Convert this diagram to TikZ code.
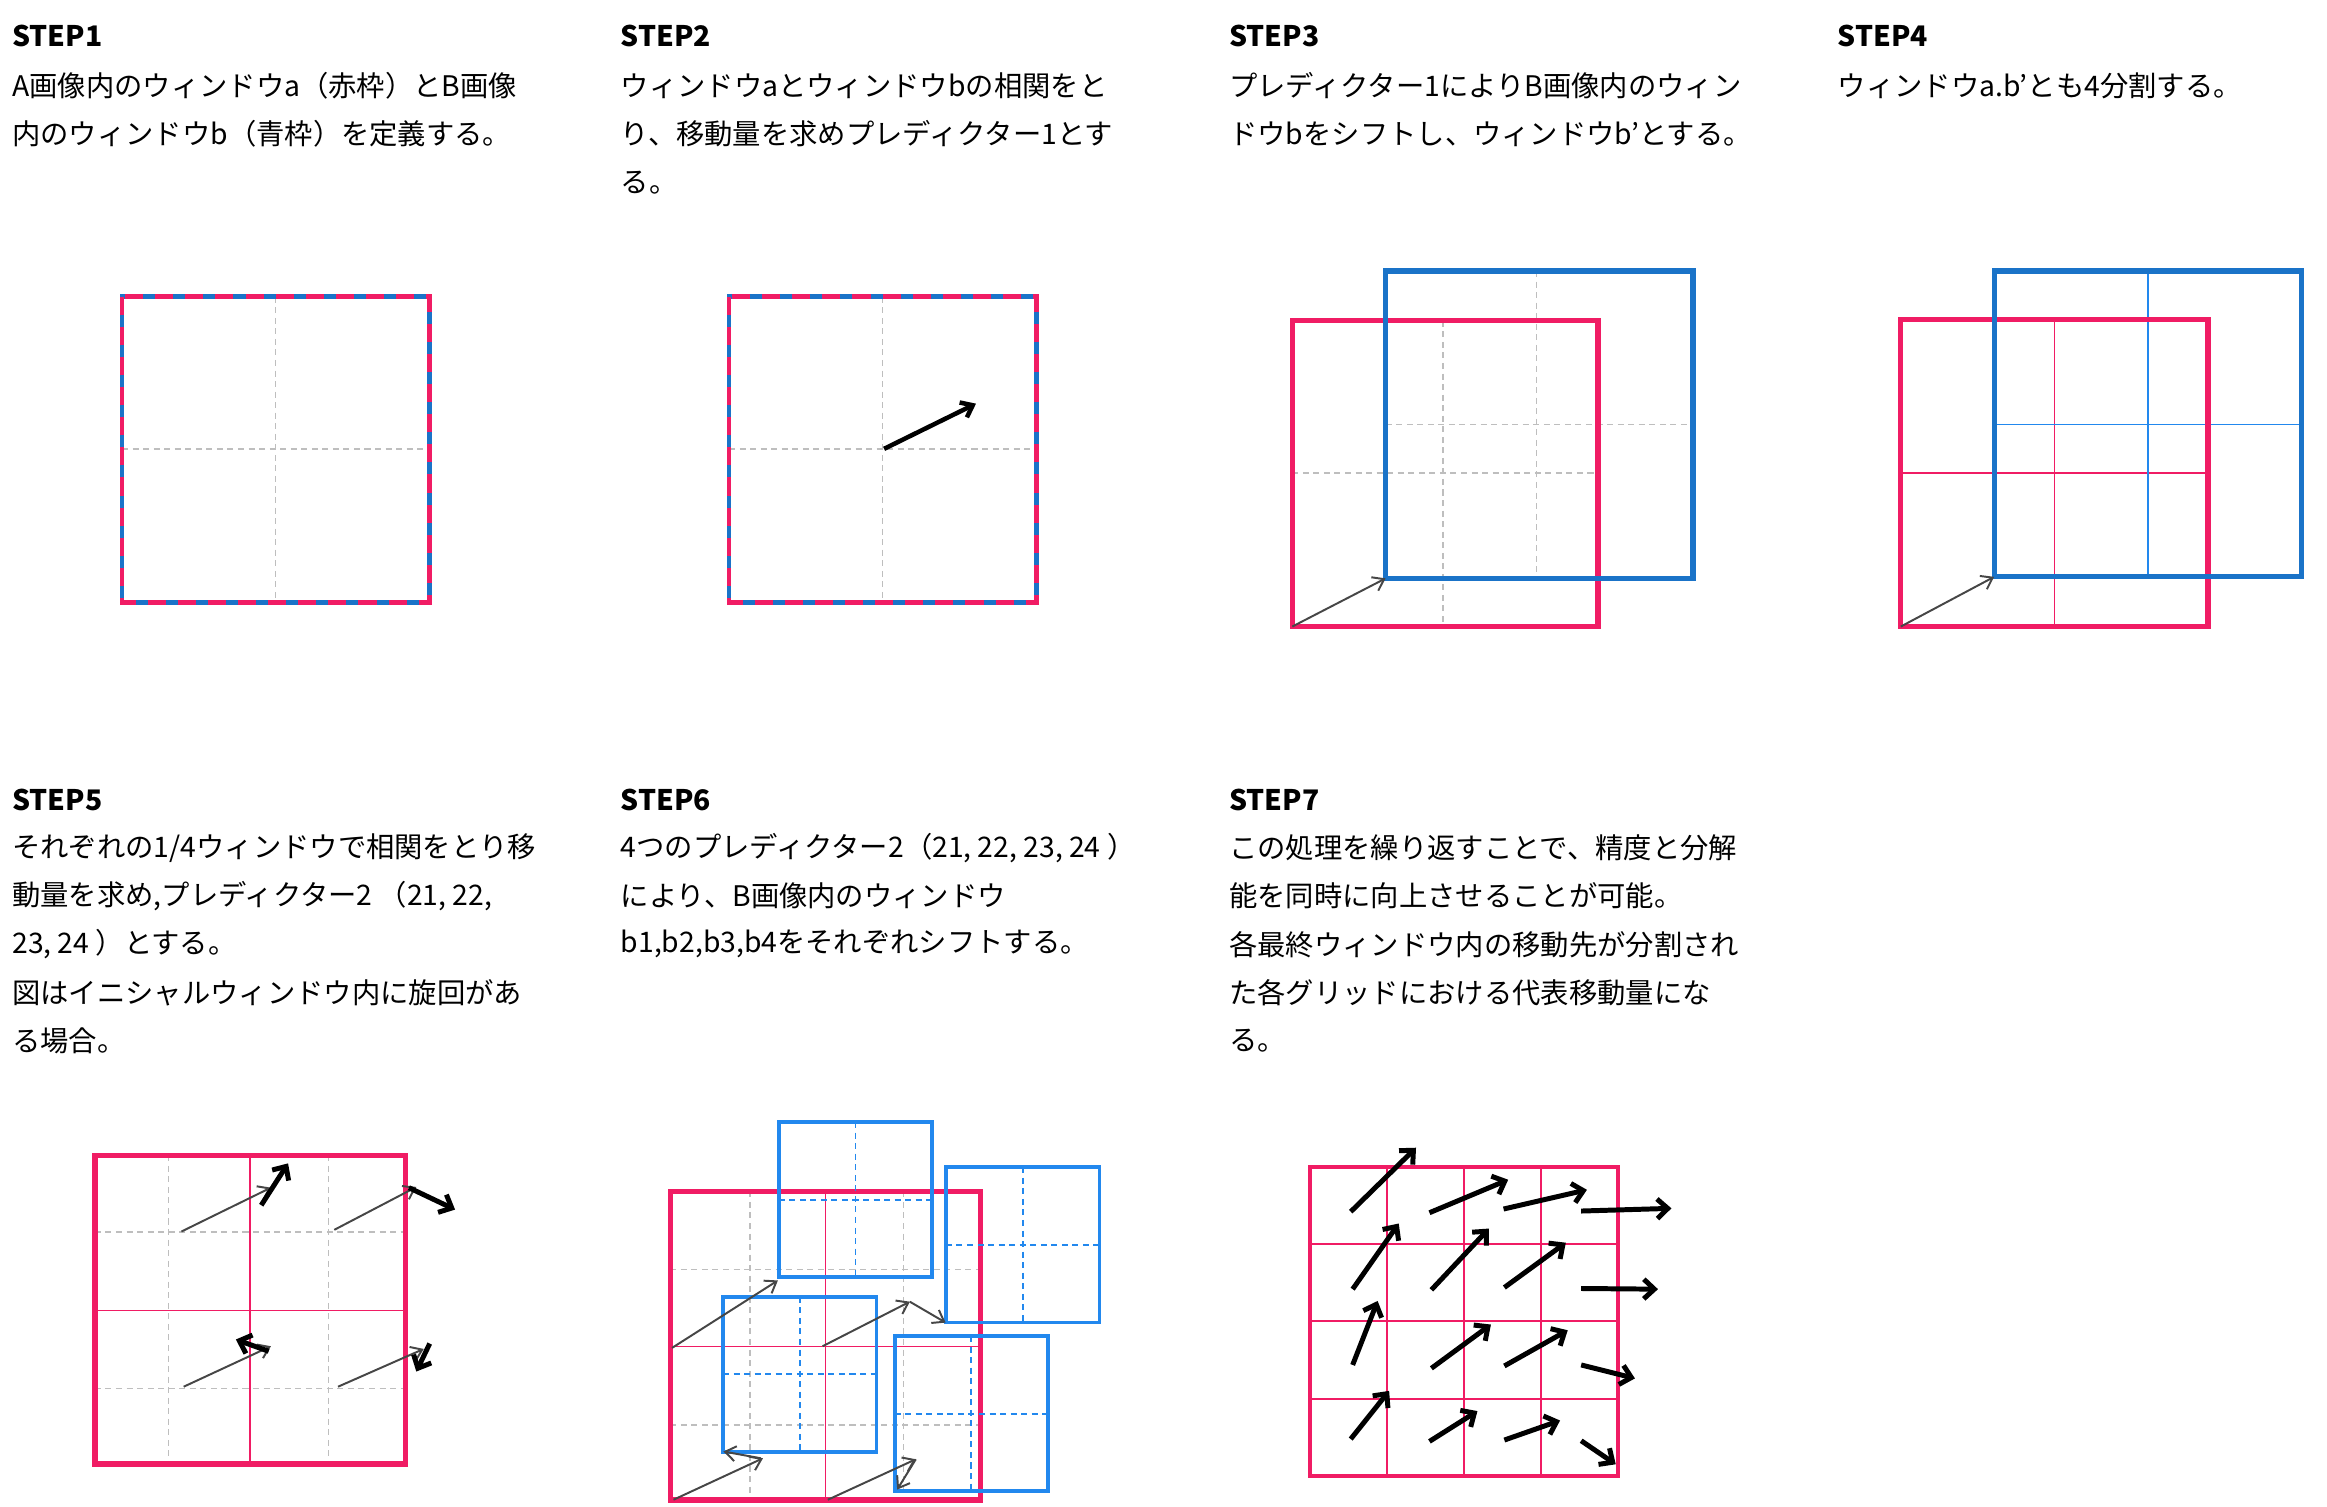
\documentclass[tikz,border=0pt]{standalone}
\usepackage{fontspec}
\setmainfont{Noto Sans CJK JP}
\usetikzlibrary{arrows.meta}
\definecolor{rd}{RGB}{240,28,100}
\definecolor{bl}{RGB}{26,115,200}
\definecolor{bl2}{RGB}{34,136,238}
\definecolor{gr}{RGB}{190,190,190}
\definecolor{ar}{RGB}{70,70,70}
\tikzset{
 txt/.style={anchor=west,inner sep=0pt,font=\fontsize{18.8}{20}\selectfont},
 ttl/.style={anchor=west,inner sep=0pt,font=\fontsize{18.8}{20}\selectfont\bfseries},
 rframe/.style={draw=rd,line width=3.5pt},
 bframe/.style={draw=bl,line width=3.5pt},
 b2frame/.style={draw=bl2,line width=2.5pt},
 gdash/.style={draw=gr,line width=1pt,dash pattern=on 4pt off 3pt},
 rthin/.style={draw=rd,line width=1pt},
 bthin/.style={draw=bl2,line width=1pt},
 bdash/.style={draw=bl2,line width=1.3pt,dash pattern=on 4pt off 3pt},
 garrow/.style={draw=ar,line width=1.3pt,-{Straight Barb[length=7pt,width=10pt]}},
 barrow/.style={draw=black,line width=3.3pt,-{Straight Barb[length=7pt,width=13pt]}},
}
\begin{document}
\begin{tikzpicture}[x=1pt,y=-1pt]
\useasboundingbox (0,0) rectangle (1545,1000);
% texts
\node[ttl] (t1) at (8,24) {STEP1};
\node[txt] (t1a) at (8,57) {A画像内のウィンドウa（赤枠）とB画像};
\node[txt] (t1b) at (8,89) {内のウィンドウb（青枠）を定義する。};
\node[ttl] (t2) at (412,24) {STEP2};
\node[txt] (t2a) at (412,57) {ウィンドウaとウィンドウbの相関をと};
\node[txt] (t2b) at (412,89) {り、移動量を求めプレディクター1とす};
\node[txt] (t2c) at (412,121) {る。};
\node[ttl] (t3) at (816,24) {STEP3};
\node[txt] (t3a) at (816,57) {プレディクター1によりB画像内のウィン};
\node[txt] (t3b) at (816,89) {ドウbをシフトし、ウィンドウb’とする。};
\node[ttl] (t4) at (1220,24) {STEP4};
\node[txt] (t4a) at (1220,57) {ウィンドウa.b’とも4分割する。};
\node[ttl] (t5) at (8,531) {STEP5};
\node[txt] (t5a) at (8,563) {それぞれの1/4ウィンドウで相関をとり移};
\node[txt] (t5b) at (8,595) {動量を求め,プレディクター2 （21, 22,};
\node[txt] (t5c) at (8,627) {23, 24 ）とする。};
\node[txt] (t5d) at (8,659) {図はイニシャルウィンドウ内に旋回があ};
\node[txt] (t5e) at (8,691) {る場合。};
\node[ttl] (t6) at (412,531) {STEP6};
\node[txt] (t6a) at (412,563) {4つのプレディクター2（21, 22, 23, 24 ）};
\node[txt] (t6b) at (412,595) {により、B画像内のウィンドウ};
\node[txt] (t6c) at (412,627) {b1,b2,b3,b4をそれぞれシフトする。};
\node[ttl] (t7) at (816,531) {STEP7};
\node[txt] (t7a) at (816,563) {この処理を繰り返すことで、精度と分解};
\node[txt] (t7b) at (816,595) {能を同時に向上させることが可能。};
\node[txt] (t7c) at (816,627) {各最終ウィンドウ内の移動先が分割され};
\node[txt] (t7d) at (816,659) {た各グリッドにおける代表移動量にな};
\node[txt] (t7e) at (816,691) {る。};
% STEP1
\draw[gdash] (183,197) -- (183,400) (81,298) -- (285,298);
\draw[bframe,line width=3pt] (81,197) rectangle (285,400);
\draw[draw=rd,line width=3pt,dash pattern=on 12pt off 8pt] (81,197) rectangle (285,400);
% STEP2
\draw[gdash] (586,197) -- (586,400) (484,298) -- (688,298);
\draw[bframe,line width=3pt] (484,197) rectangle (688,400);
\draw[draw=rd,line width=3pt,dash pattern=on 12pt off 8pt] (484,197) rectangle (688,400);
\coordinate (s2a) at (587,298); \coordinate (s2b) at (648,268);
\draw[draw=black,line width=3pt,-{Straight Barb[length=7pt,width=11pt]}] (s2a) -- (s2b);
% STEP3
\draw[gdash] (958,213) -- (958,416) (1020,180) -- (1020,384) (920,282) -- (1124,282) (858,314) -- (1061,314);
\draw[rframe] (858,213) rectangle (1061,416);
\draw[bframe] (920,180) rectangle (1124,384);
\coordinate (s3a) at (858,416); \coordinate (s3b) at (920,384);
\draw[garrow] (s3a) -- (s3b);
% STEP4
\draw[rthin] (1364,212) -- (1364,416) (1262,314) -- (1466,314);
\draw[bthin] (1426,180) -- (1426,383) (1324,282) -- (1528,282);
\draw[rframe] (1262,212) rectangle (1466,416);
\draw[bframe] (1324,180) rectangle (1528,383);
\coordinate (s4a) at (1262,416); \coordinate (s4b) at (1324,383);
\draw[garrow] (s4a) -- (s4b);
% STEP5
\draw[gdash] (112,767) -- (112,972) (218,767) -- (218,972) (63,818) -- (269,818) (63,922) -- (269,922);
\draw[rthin] (166,767) -- (166,972) (63,870) -- (269,870);
\draw[rframe] (63,767) rectangle (269,972);
\begin{scope}[shift={(-0.8pt,-741.5pt)},x=0.495pt,y=-0.224pt]
 \draw[garrow] (245,340) -- (365,210);
 \draw[garrow] (450,335) -- (560,208);
 \draw[garrow] (248,800) -- (365,680);
 \draw[garrow] (455,800) -- (570,688);
 \draw[barrow] (352,262) -- (388,138);
 \draw[barrow] (550,210) -- (612,275);
 \draw[barrow] (362,695) -- (318,660);
 \draw[barrow] (578,672) -- (560,755);
\end{scope}
% STEP6
\draw[gdash] (498,791) -- (498,996) (600,791) -- (600,996) (445,843) -- (651,843) (445,946) -- (651,946);
\draw[rthin] (548,791) -- (548,996) (445,894) -- (651,894);
\draw[rframe] (445,791) rectangle (651,996);
\foreach \x/\y in {517/745, 628/775, 480/861, 594/887}{
 \draw[bdash] (\x+51,\y) -- (\x+51,\y+103) (\x,\y+51.5) -- (\x+102,\y+51.5);
 \draw[b2frame] (\x,\y) rectangle (\x+102,\y+103);
}
\begin{scope}[shift={(-0.8pt,-741.5pt)},x=0.495pt,y=-0.224pt]
 \draw[garrow] (903,685) -- (1045,485);
 \draw[garrow] (1105,680) -- (1222,548);
 \draw[garrow] (1222,548) -- (1270,610);
 \draw[garrow] (905,1135) -- (1025,1012);
 \draw[garrow] (1022,1012) -- (972,992);
 \draw[garrow] (1112,1135) -- (1230,1015);
 \draw[garrow] (1230,1015) -- (1205,1105);
\end{scope}
% STEP7
\draw[rthin,line width=1.5pt] (921,775) -- (921,980) (972,775) -- (972,980) (1023,775) -- (1023,980)
 (870,826) -- (1074,826) (870,877) -- (1074,877) (870,929) -- (1074,929);
\draw[draw=rd,line width=2.5pt] (870,775) rectangle (1074,980);
\begin{scope}[shift={(810.1pt,-741.9pt)},x=0.255pt,y=-0.2236pt]
 \foreach \a/\b/\c/\d in {340/280/510/90, 545/283/750/185, 738/272/955/215, 940/278/1175/270,
  345/510/465/315, 550/512/700/330, 740/505/900/372, 940/508/1140/510,
  345/735/410/545, 550/745/705/615, 740/738/905/632, 940/735/1080/775,
  340/955/440/812, 545/962/670/872, 740/958/885/900, 940/960/1030/1030}{
  \draw[barrow] (\a,\b) -- (\c,\d);
 }
\end{scope}
\end{tikzpicture}
\end{document}
